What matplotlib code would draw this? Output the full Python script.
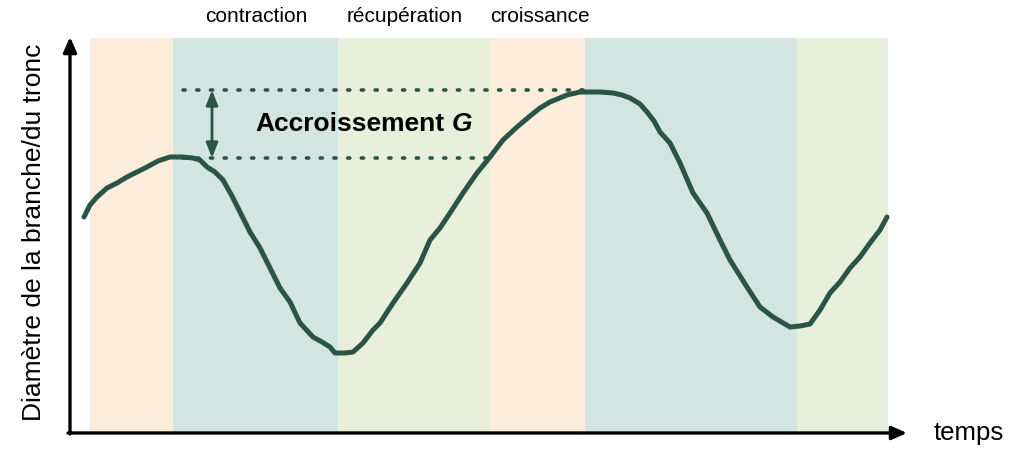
import numpy as np
import matplotlib.pyplot as plt

# --- DATA (x = time, y = diameter) ---
temps = [84, 90, 97, 107, 117, 127, 137, 147, 158, 170, 182, 193, 200, 207, 215, 223,
         232, 240, 250, 260, 270, 280, 290, 300, 313, 322, 330, 335, 345, 353, 363, 373,
         380, 393, 407, 420, 430, 440, 450, 463, 477, 490, 503, 517, 530, 540, 550,
         567, 580, 600, 613, 622, 630, 640, 647, 654, 660, 670, 680, 693, 707, 720, 730, 747,
         760, 773, 790, 800, 810, 820, 830, 840, 850, 860, 870, 880, 887]
diametre = [217, 205, 197, 188, 183, 177, 172, 167, 161, 157, 157, 158, 160, 167, 172, 180,
            196, 212, 232, 248, 268, 288, 302, 323, 337, 342, 347, 353, 353, 352, 343, 330,
            323, 303, 283, 263, 240, 228, 213, 193, 173, 157, 140, 127, 116, 108, 102,
            95, 92, 92, 93, 95, 98, 104, 112, 121, 132, 143, 163, 193, 213, 240, 260, 287,
            307, 317, 327, 326, 324, 310, 293, 282, 268, 257, 243, 230, 217]
diametre = [450 - d for d in diametre]

phase_bounds = [90, 173, 338, 490, 585, 797, 888]
phase_colors = ["#fbecdb", "#d2e5e0", "#e8efdb", "#fbecdb", "#d2e5e0", "#e8efdb"]
phase_labels = ["contraction", "récupération", "croissance"]
phase_label_x = [256, 405, 540]

g_top, g_bottom = 450 - 90, 450 - 158
g_top_span = (183, 590)
g_bottom_span = (183, 490)

curve_color = "#2a5446"
plt.rcParams['font.family'] = ['Liberation Sans', 'DejaVu Sans']

fig = plt.figure(figsize=(10.33, 4.5), dpi=100)
ax = fig.add_axes([0, 0, 1, 1])
ax.set_xlim(0, 1033)
ax.set_ylim(0, 450)
ax.axis("off")

# phase bands
for i in range(len(phase_colors)):
    ax.fill_between([phase_bounds[i], phase_bounds[i + 1]], 17, 412,
                    color=phase_colors[i], lw=0, zorder=0)

# axes with arrows
ax.annotate("", xy=(70, 413), xytext=(70, 16),
            arrowprops=dict(arrowstyle="-|>,head_length=0.9,head_width=0.4",
                            color="black", lw=2.4, shrinkA=0, shrinkB=0), zorder=3)
ax.annotate("", xy=(907, 17), xytext=(68, 17),
            arrowprops=dict(arrowstyle="-|>,head_length=0.9,head_width=0.4",
                            color="black", lw=2.4, shrinkA=0, shrinkB=0), zorder=3)

# dotted guides for the increment
ax.plot(g_top_span, [g_top, g_top], ls=(0, (0.6, 3.2)), lw=2.6,
        color=curve_color, dash_capstyle="round", zorder=2)
ax.plot(g_bottom_span, [g_bottom, g_bottom], ls=(0, (0.6, 3.2)), lw=2.6,
        color=curve_color, dash_capstyle="round", zorder=2)
ax.annotate("", xy=(212, g_top), xytext=(212, g_bottom),
            arrowprops=dict(arrowstyle="<|-|>,head_length=0.9,head_width=0.35",
                            color=curve_color, lw=2, shrinkA=0, shrinkB=0), zorder=3)

# curve
ax.plot(temps, diametre, color=curve_color, lw=3.6, solid_capstyle="round",
        solid_joinstyle="round", zorder=4)

# texts
ax.text(255, 450 - 124, "Accroissement", fontsize=19, fontweight="bold",
        va="center", ha="left")
ax.text(452, 450 - 124, "G", fontsize=19, fontweight="bold", fontstyle="italic",
        va="center", ha="left")
for lab, xp in zip(phase_labels, phase_label_x):
    ax.text(xp, 450 - 17, lab, fontsize=15, ha="center", va="center")
ax.text(34, 450 - 232, "Diamètre de la branche/du tronc", fontsize=19, rotation=90,
        ha="center", va="center")
ax.text(969, 450 - 433, "temps", fontsize=18.5, ha="center", va="center")

fig.savefig("out.png", dpi=100)
